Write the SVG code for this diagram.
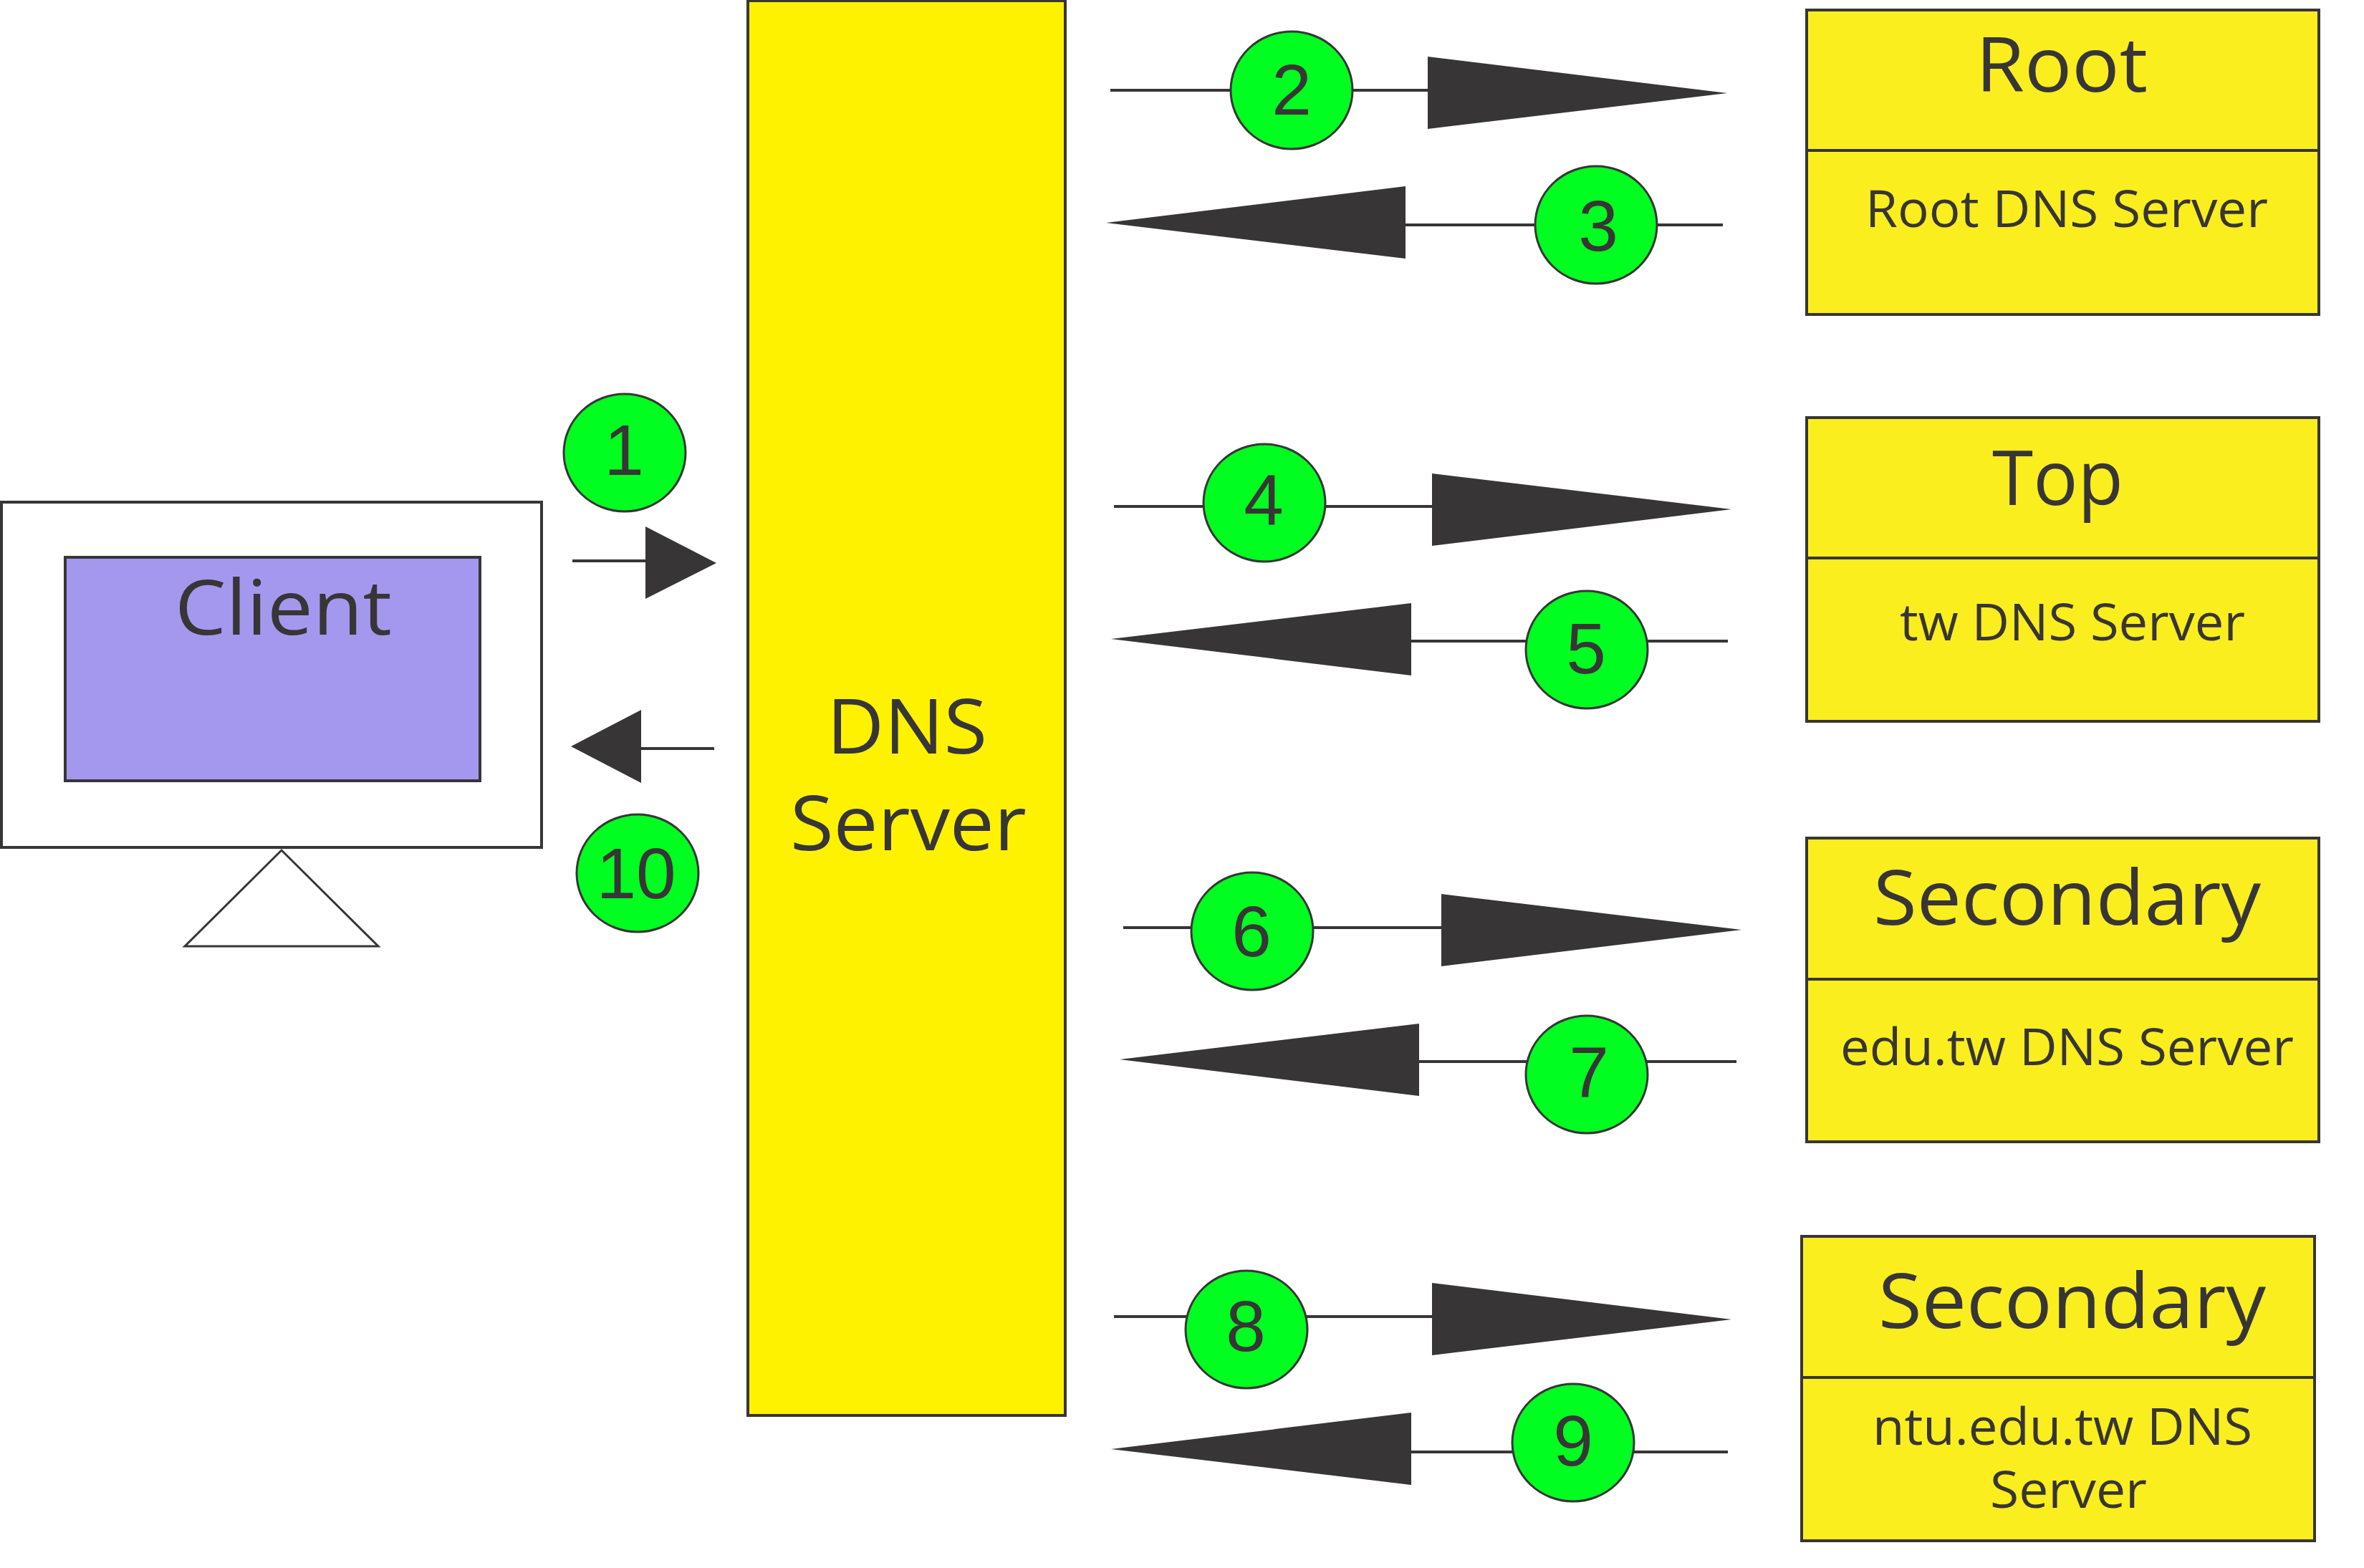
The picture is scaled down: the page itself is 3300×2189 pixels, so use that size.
<svg xmlns="http://www.w3.org/2000/svg" width="3300" height="2189" viewBox="0 0 3300 2189">
<style>
.s{stroke:#383536;stroke-width:4}
.box{fill:#FAEE1F}
.num{fill:#383536;font-family:"Liberation Sans",Arial,sans-serif;font-size:100px;text-anchor:middle}
.lbl{fill:#383536;font-family:"Open Sans","Noto Sans",sans-serif}
.big{font-size:106px}
.mid{font-size:72px}
.ell{fill:#00FF21;stroke:#383536;stroke-width:3}
.head{fill:#383536}
</style>
<rect width="3300" height="2189" fill="#fff"/>
<g id="client">
<rect class="s" x="2" y="701" width="754" height="482" fill="#fff"/>
<rect class="s" x="91" y="778" width="579" height="312" fill="#A498EE"/>
<polygon points="393,1187 258,1321 528,1321" fill="#fff" stroke="#383536" stroke-width="3"/>
<text class="lbl big" x="244" y="886" textLength="303" lengthAdjust="spacingAndGlyphs">Client</text>
</g>
<g id="dns-server">
<rect class="s" x="1044" y="1" width="443" height="1975" fill="#FFF200"/>
<text class="lbl big" x="1154" y="1052" textLength="224" lengthAdjust="spacingAndGlyphs">DNS</text>
<text class="lbl big" x="1103" y="1187" textLength="330" lengthAdjust="spacingAndGlyphs">Server</text>
</g>
<g id="root-server">
<rect class="s box" x="2522" y="14" width="715" height="425"/>
<line class="s" x1="2520" y1="210" x2="3237" y2="210"/>
<text class="lbl big" x="2758" y="128" textLength="240" lengthAdjust="spacingAndGlyphs">Root</text>
<text class="lbl mid" x="2604" y="317" textLength="562" lengthAdjust="spacingAndGlyphs">Root DNS Server</text>
</g>
<g id="top-server">
<rect class="s box" x="2522" y="583" width="715" height="424"/>
<line class="s" x1="2520" y1="779" x2="3237" y2="779"/>
<text class="lbl big" x="2781" y="705" textLength="183" lengthAdjust="spacingAndGlyphs">Top</text>
<text class="lbl mid" x="2652" y="894" textLength="482" lengthAdjust="spacingAndGlyphs">tw DNS Server</text>
</g>
<g id="secondary-edu-server">
<rect class="s box" x="2522" y="1170" width="715" height="424"/>
<line class="s" x1="2520" y1="1367" x2="3237" y2="1367"/>
<text class="lbl big" x="2615" y="1291" textLength="541" lengthAdjust="spacingAndGlyphs">Secondary</text>
<text class="lbl mid" x="2569" y="1487" textLength="633" lengthAdjust="spacingAndGlyphs">edu.tw DNS Server</text>
</g>
<g id="secondary-ntu-server">
<rect class="s box" x="2515" y="1726" width="716" height="425"/>
<line class="s" x1="2513" y1="1923" x2="3231" y2="1923"/>
<text class="lbl big" x="2622" y="1854" textLength="541" lengthAdjust="spacingAndGlyphs">Secondary</text>
<text class="lbl mid" x="2614" y="2017" textLength="530" lengthAdjust="spacingAndGlyphs">ntu.edu.tw DNS</text>
<text class="lbl mid" x="2778" y="2105" textLength="219" lengthAdjust="spacingAndGlyphs">Server</text>
</g>
<g id="connectors">
<line class="s" x1="799" y1="783" x2="905" y2="783"/><polygon class="head" points="901,735 1000,786 901,836"/>
<line class="s" x1="997" y1="1045" x2="890" y2="1045"/><polygon class="head" points="895,991 797,1042 895,1093"/>
<line class="s" x1="1550" y1="126" x2="1998" y2="126"/><polygon class="head" points="1993,79 2411,130 1993,180"/>
<line class="s" x1="2405" y1="314" x2="1956" y2="314"/><polygon class="head" points="1962,260 1544,311 1962,361"/>
<line class="s" x1="1555" y1="707" x2="2003" y2="707"/><polygon class="head" points="1999,661 2417,711 1999,762"/>
<line class="s" x1="2412" y1="895" x2="1966" y2="895"/><polygon class="head" points="1970,842 1551,892 1970,943"/>
<line class="s" x1="1568" y1="1295" x2="2016" y2="1295"/><polygon class="head" points="2012,1248 2431,1298 2012,1349"/>
<line class="s" x1="2424" y1="1482" x2="1976" y2="1482"/><polygon class="head" points="1981,1429 1563,1479 1981,1530"/>
<line class="s" x1="1555" y1="1838" x2="2003" y2="1838"/><polygon class="head" points="1999,1791 2417,1842 1999,1892"/>
<line class="s" x1="2412" y1="2027" x2="1966" y2="2027"/><polygon class="head" points="1970,1972 1551,2023 1970,2073"/>
</g>
<g id="step-1"><ellipse class="ell" cx="872" cy="632" rx="85" ry="82"/><text class="num" x="871" y="663">1</text></g>
<g id="step-2"><ellipse class="ell" cx="1803" cy="126" rx="85" ry="82"/><text class="num" x="1803" y="160">2</text></g>
<g id="step-3"><ellipse class="ell" cx="2228" cy="314" rx="85" ry="82"/><text class="num" x="2231" y="350">3</text></g>
<g id="step-4"><ellipse class="ell" cx="1765" cy="702" rx="85" ry="82"/><text class="num" x="1764" y="733">4</text></g>
<g id="step-5"><ellipse class="ell" cx="2215" cy="907" rx="85" ry="82"/><text class="num" x="2214" y="940">5</text></g>
<g id="step-6"><ellipse class="ell" cx="1748" cy="1300" rx="85" ry="82"/><text class="num" x="1747" y="1335">6</text></g>
<g id="step-7"><ellipse class="ell" cx="2215" cy="1500" rx="85" ry="82"/><text class="num" x="2218" y="1532">7</text></g>
<g id="step-8"><ellipse class="ell" cx="1740" cy="1856" rx="85" ry="82"/><text class="num" x="1739" y="1886">8</text></g>
<g id="step-9"><ellipse class="ell" cx="2196" cy="2014" rx="85" ry="82"/><text class="num" x="2196" y="2046">9</text></g>
<g id="step-10"><ellipse class="ell" cx="890" cy="1219" rx="85" ry="82"/><text class="num" x="888" y="1254">10</text></g>
</svg>
